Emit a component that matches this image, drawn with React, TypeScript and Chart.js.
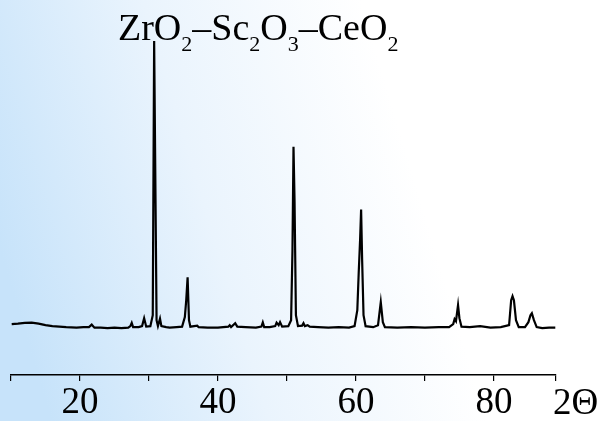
import React, { useEffect, useRef } from "react";
import { Chart, registerables } from "chart.js";

Chart.register(...registerables);

// 2θ positions (degrees)
const twoTheta: number[] = [
  10.1, 11, 12, 13, 14, 15, 16, 17, 18, 19.5, 20.5, 21.3, 21.7, 22.1, 23, 24, 25, 26, 27, 27.3,
  27.5, 27.7, 28.5, 29.0, 29.3, 29.6, 30.2, 30.55, 30.75, 30.95, 31.1, 31.3, 31.6, 31.8, 32.5, 33,
  34, 34.8, 35.2, 35.4, 35.6, 35.8, 36, 37, 37.2, 38.5, 40, 41.5, 41.7, 41.9, 42.5, 42.8, 44, 45.5,
  46.3, 46.5, 46.7, 47.5, 48.3, 48.5, 48.8, 49.0, 49.3, 50.2, 50.6, 50.8, 50.95, 51.1, 51.3, 51.6,
  52.2, 52.4, 52.6, 53, 53.3, 54.5, 56, 57.5, 59, 59.8, 60.2, 60.4, 60.6, 60.75, 60.9, 61.1, 61.4,
  62.5, 63.2, 63.6, 63.9, 64.2, 66, 68, 70, 72, 73.5, 74.1, 74.3, 74.5, 74.8, 75.0, 75.3, 76.5, 78,
  79.5, 81, 82.2, 82.5, 82.7, 82.9, 83.2, 83.6, 84.5, 85.0, 85.3, 85.5, 85.8, 86.2, 87, 88, 88.9,
];

// intensity (a.u.)
const intensity: number[] = [
  510, 515, 523, 525, 515, 500, 490, 485, 480, 475, 480, 480, 505, 475, 475, 470, 475, 470, 475, 490,
  523, 480, 480, 490, 570, 485, 490, 600, 3350, 1750, 550, 490, 565, 490, 480, 475,
  480, 485, 580, 750, 980, 550, 485, 495, 480, 475, 475, 485, 500, 480, 520, 485, 480, 475,
  485, 527, 480, 480, 490, 525, 500, 530, 485, 490, 550, 1250, 2290, 1750, 600, 490,
  495, 520, 490, 500, 485, 480, 475, 480, 475, 490, 650, 1020, 1350, 1660, 1150, 600, 490,
  480, 500, 730, 530, 480, 475, 480, 475, 480, 480, 510, 560, 540, 700, 570, 485, 480, 490,
  475, 480, 500, 750, 790, 750, 550, 480, 480, 530, 600, 620, 550, 480, 470, 475, 475,
];

const xMin = 10;
const xMax = 89;
const xStep = 10;
const labeledTicks: number[] = [20, 40, 60, 80];
const yMax = 3360;

// title: ZrO2–Sc2O3–CeO2 (text, isSubscript)
const titleParts: [string, boolean][] = [
  ["ZrO", false],
  ["2", true],
  ["–Sc", false],
  ["2", true],
  ["O", false],
  ["3", true],
  ["–CeO", false],
  ["2", true],
];
const axisLabel = "2Θ";

const FONT = "'Liberation Serif', 'Times New Roman', serif";

const decorPlugin = {
  id: "decor",
  beforeDraw(chart: any) {
    const { ctx, width, height } = chart;
    ctx.save();
    const g = ctx.createLinearGradient(0, 250, 400, 130);
    g.addColorStop(0, "rgb(199,227,250)");
    g.addColorStop(0.5, "rgb(234,244,253)");
    g.addColorStop(1, "rgb(255,255,255)");
    ctx.fillStyle = g;
    ctx.fillRect(0, 0, width, height);
    ctx.restore();
  },
  afterDraw(chart: any) {
    const { ctx } = chart;
    ctx.save();
    ctx.fillStyle = "#000";
    ctx.textBaseline = "alphabetic";
    ctx.textAlign = "left";
    let x = 118;
    const baseY = 40;
    for (const [t, sub] of titleParts) {
      ctx.font = sub ? `22px ${FONT}` : `38px ${FONT}`;
      ctx.fillText(t, x, sub ? baseY + 11 : baseY);
      x += ctx.measureText(t).width;
    }
    ctx.font = `37px ${FONT}`;
    ctx.fillText(axisLabel, 553, 414);
    ctx.restore();
  },
};

export default function App() {
  const ref = useRef<HTMLCanvasElement | null>(null);
  useEffect(() => {
    if (!ref.current) return;
    const data = twoTheta.map((x, i) => ({ x, y: intensity[i] }));
    const chart = new Chart(ref.current, {
      type: "line",
      data: {
        datasets: [
          {
            data,
            borderColor: "#000",
            borderWidth: 2.2,
            pointRadius: 0,
            tension: 0,
            fill: false,
          },
        ],
      },
      options: {
        animation: false,
        responsive: false,
        maintainAspectRatio: false,
        layout: { padding: { left: 11, right: 45, top: 40, bottom: 0 } },
        plugins: { legend: { display: false }, title: { display: false }, tooltip: { enabled: false } },
        scales: {
          x: {
            type: "linear",
            min: xMin,
            max: xMax,
            afterFit(scale: any) {
              scale.height = 46;
            },
            border: { display: true, color: "#000", width: 1.5 },
            grid: { drawOnChartArea: false, drawTicks: true, tickLength: 6, color: "#000", lineWidth: 1.2 },
            ticks: {
              stepSize: xStep,
              autoSkip: false,
              maxRotation: 0,
              padding: 0,
              color: "#000",
              font: { family: FONT, size: 37 },
              callback: (v: any) => (labeledTicks.includes(Number(v)) ? String(v) : ""),
            },
          },
          y: { display: false, min: 0, max: yMax },
        },
      },
      plugins: [decorPlugin],
    });
    return () => chart.destroy();
  }, []);
  return (
    <div style={{ position: "fixed", left: 0, top: 0, width: 601, height: 421 }}>
      <canvas ref={ref} width={601} height={421} style={{ width: 601, height: 421, display: "block" }} />
    </div>
  );
}
